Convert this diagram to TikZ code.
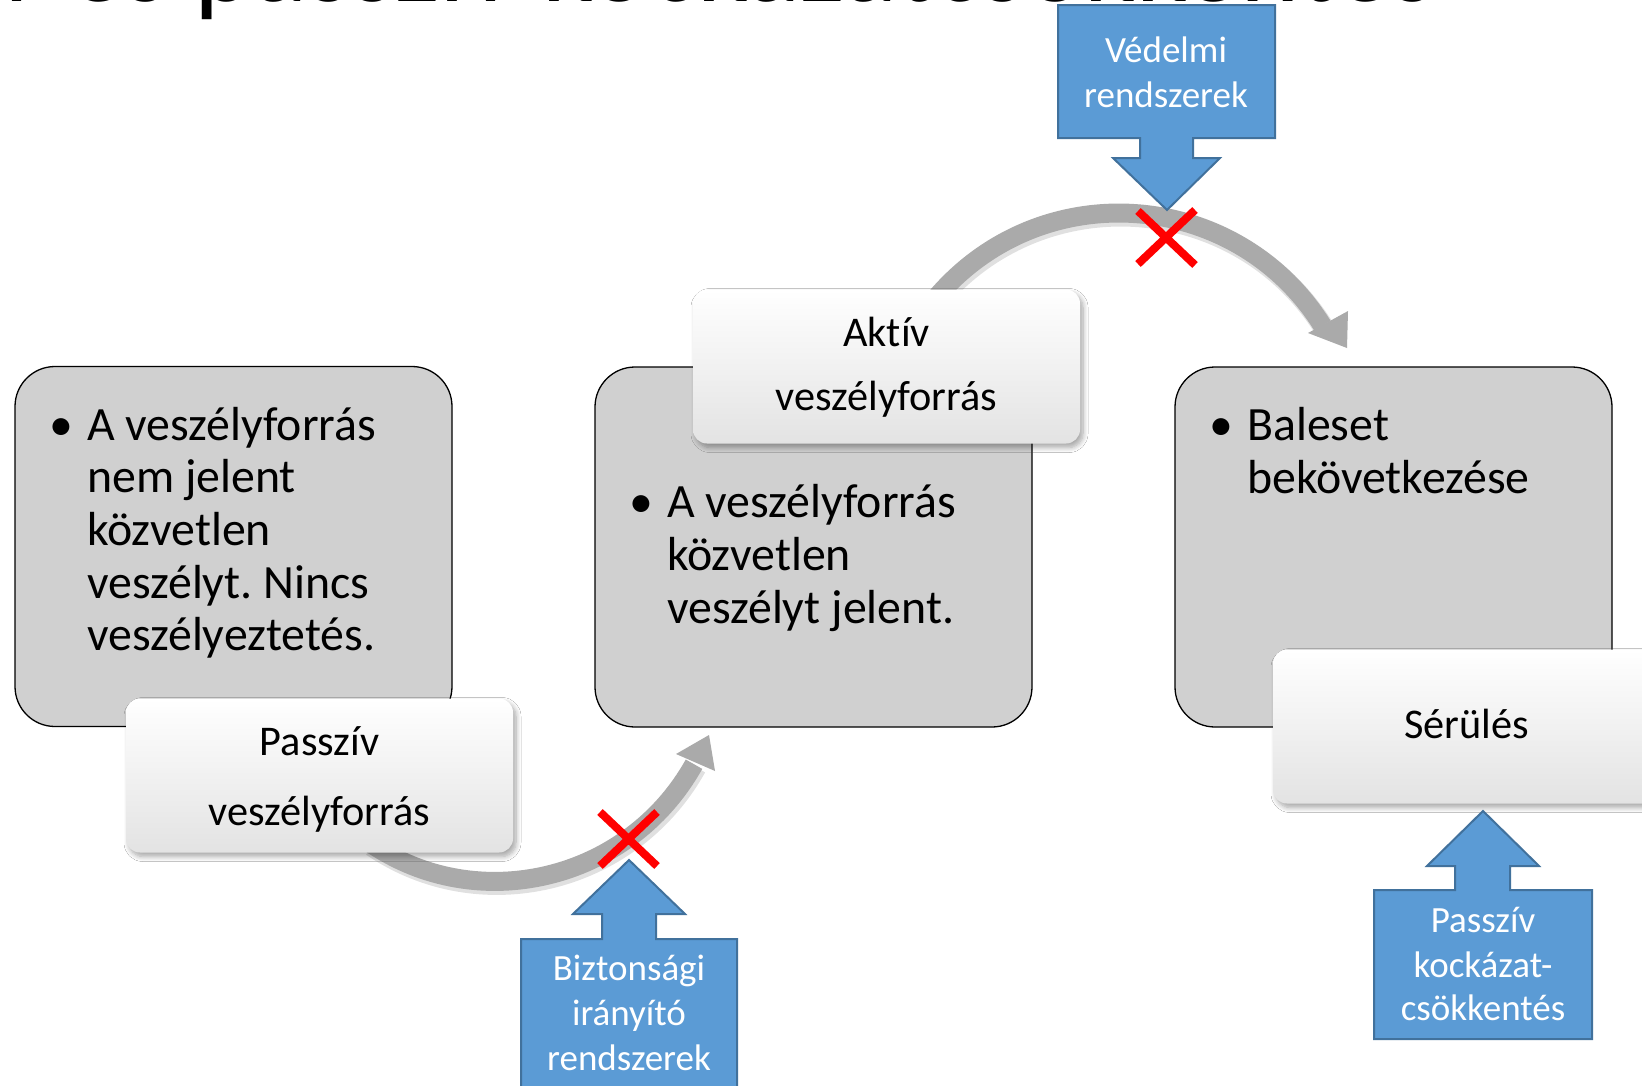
\documentclass[tikz,border=0pt]{standalone}
\usepackage{fontspec}
\setmainfont{Carlito}[Ligatures=NoCommon]
\usetikzlibrary{shadows.blur}
\definecolor{boxgray}{HTML}{D0D0D0}
\definecolor{bluef}{HTML}{5B9BD5}
\definecolor{blued}{HTML}{41719C}
\definecolor{arrgray}{HTML}{AAAAAA}
\frenchspacing
\tikzset{
  graybox/.style={draw=black, line width=1.3pt, fill=boxgray, rounded corners=40pt,
    minimum width=437pt, minimum height=360pt, inner sep=0pt},
  labelbox/.style={rounded corners=14pt, minimum width=387pt, minimum height=154pt,
    top color=white, middle color=white, bottom color=black!11, inner sep=0pt,
    blur shadow={shadow xshift=3pt, shadow yshift=-4pt, shadow blur radius=5pt, shadow blur steps=8, shadow opacity=35}},
  btxt/.style={inner sep=0pt, anchor=base west, font=\fontsize{47.8}{52}\selectfont},
  bul/.style={inner sep=0pt, anchor=base, font=\fontsize{47.8}{52}\selectfont},
  ltxt/.style={inner sep=0pt, anchor=base, font=\fontsize{42.3}{50}\selectfont},
  ctxt/.style={inner sep=0pt, anchor=base, text=white, font=\fontsize{37}{45}\selectfont},
  callout/.style={fill=bluef, draw=blued, line width=2pt},
  band/.style={draw=arrgray, line width=19pt},
  bandshadow/.style={draw=black, opacity=0.12, line width=21pt},
  head/.style={fill=arrgray},
  cross/.style={draw=red, line width=8pt}
}
\begin{document}
\begin{tikzpicture}[x=1pt,y=-1pt]
\useasboundingbox (0,0) rectangle (1642,1085);
\clip (0,0) rectangle (1642,1085);
\fill[white] (0,0) rectangle (1642,1085);

% cut-off title
\node[anchor=base west, inner sep=0pt, font=\fontsize{113}{120}\selectfont] (title) at (-188.5,1) {Aktív és passzív kockázatcsökkentés};

% gray boxes
\node[graybox] (g1) at (233.5,546.5) {};
\node[graybox] (g2) at (813.5,547) {};
\node[graybox] (g3) at (1393.5,547) {};

\node[bul] (b1) at (61.5,440) {•};
\node[btxt] (t11) at (87,440) {A veszélyforrás};
\node[btxt] (t12) at (87,492) {nem jelent};
\node[btxt] (t13) at (87,545) {közvetlen};
\node[btxt] (t14) at (87,598) {veszélyt. Nincs};
\node[btxt] (t15) at (87,650) {veszélyeztetés.};

\node[bul] (b2) at (641.5,517) {•};
\node[btxt] (t21) at (667,517) {A veszélyforrás};
\node[btxt] (t22) at (667,570) {közvetlen};
\node[btxt] (t23) at (667,623) {veszélyt jelent.};

\node[bul] (b3) at (1221.5,440) {•};
\node[btxt] (t31) at (1247,440) {Baleset};
\node[btxt] (t32) at (1247,493) {bekövetkezése};

% curved arrows
\coordinate (a1s) at (370,843);
\coordinate (a1e) at (694,764.2);
\coordinate (a1tip) at (709,735);
\coordinate (a2s) at (935.2,298.7);
\coordinate (a2e) at (1322.5,325.8);
\coordinate (a2tip) at (1347,348);

\draw[bandshadow] ([shift={(2,3)}]a1s) .. controls (478.8,919.2) and (630.1,885) .. ([shift={(2,3)}]a1e);
\draw[band] (a1s) .. controls (476.8,916.2) and (628.1,882) .. (a1e);
\fill[head] (a1tip) -- (676,754) -- (715,771) -- cycle;

\draw[bandshadow] ([shift={(2,3)}]a2s) .. controls (1042,176.9) and (1238.1,190.6) .. ([shift={(2,3)}]a2e);
\draw[band] (a2s) .. controls (1040,173.9) and (1236.1,187.6) .. (a2e);
\fill[head] (1348,311) -- (1308,333) -- (a2tip) -- cycle;

% white label boxes
\node[labelbox] (l1) at (319.5,775.5) {};
\node[ltxt] (l1a) at (319.5,755) {Passzív};
\node[ltxt] (l1b) at (319.5,825) {veszélyforrás};

\node[labelbox] (l2) at (886.5,366.5) {};
\node[ltxt] (l2a) at (886.5,346) {Aktív};
\node[ltxt] (l2b) at (886.5,410) {veszélyforrás};

\node[labelbox] (l3) at (1466.5,726.5) {};
\node[ltxt] (l3a) at (1466.5,738) {Sérülés};

% red crosses
\draw[cross] (1138,211) -- (1195,265) (1195,210) -- (1138,264);
\draw[cross] (600,812) -- (657,866) (657,812) -- (600,866);

% blue callouts
\draw[callout] (1058,5) -- (1275,5) -- (1275,138) -- (1193,138) -- (1193,158) -- (1220,158)
  -- (1167,210) -- (1113,158) -- (1140,158) -- (1140,138) -- (1058,138) -- cycle;
\node[ctxt] (v1) at (1166,62) {Védelmi};
\node[ctxt] (v2) at (1166,107) {rendszerek};

\draw[callout] (521,1100) -- (521,939) -- (602,939) -- (602,914) -- (573,914) -- (629,860)
  -- (685,914) -- (656,914) -- (656,939) -- (737,939) -- (737,1100) -- cycle;
\node[ctxt] (s1) at (629,980) {Biztonsági};
\node[ctxt] (s2) at (629,1025) {irányító};
\node[ctxt] (s3) at (629,1070) {rendszerek};

\draw[callout] (1374,1039) -- (1374,890) -- (1455,890) -- (1455,866) -- (1427,866) -- (1483,811)
  -- (1539,866) -- (1510,866) -- (1510,890) -- (1592,890) -- (1592,1039) -- cycle;
\node[ctxt] (p1) at (1483,932) {Passzív};
\node[ctxt] (p2) at (1483,977) {kockázat-};
\node[ctxt] (p3) at (1483,1020) {csökkentés};
\end{tikzpicture}
\end{document}
